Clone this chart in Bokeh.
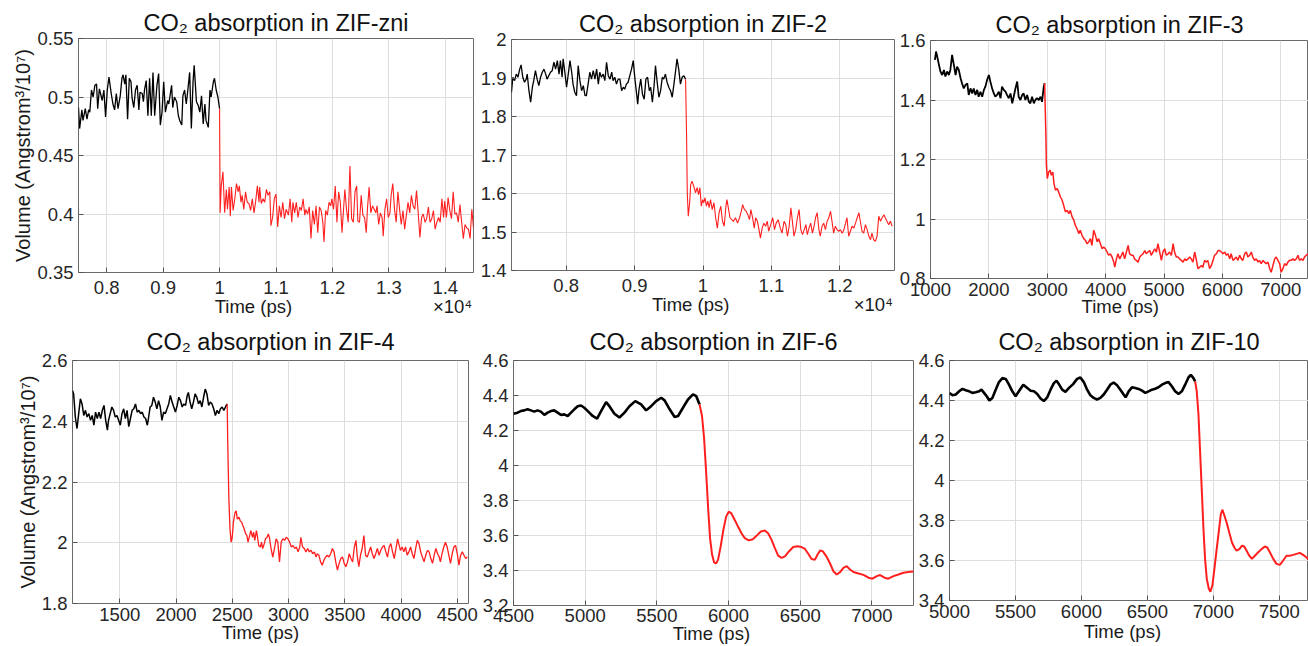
from bokeh.plotting import figure
from bokeh.layouts import column, row
from bokeh.models import Range1d, FixedTicker, CustomJSTickFormatter, LinearAxis
from bokeh.embed import file_html
from bokeh.resources import INLINE

FONT = "Liberation Sans"

TITLES = ["CO\u2082 absorption in ZIF-zni", "CO\u2082 absorption in ZIF-2", "CO\u2082 absorption in ZIF-3",
          "CO\u2082 absorption in ZIF-4", "CO\u2082 absorption in ZIF-6", "CO\u2082 absorption in ZIF-10"]
XLABEL = "Time (ps)"
YLABEL = "Volume (Angstrom\u00b3/10\u2077)"
XSCALE_LABEL = "\u00d710\u2074"

# ---------------- ZIF-zni ----------------
zni_black_t = [7500, 7520, 7560, 7580, 7620, 7650, 7680, 7700, 7730, 7760,
               7790, 7820, 7840, 7870, 7890, 7920, 7950, 7980, 8010, 8040,
               8080, 8110, 8140, 8170, 8200, 8240, 8270, 8290, 8320, 8340,
               8370, 8400, 8430, 8450, 8480, 8510, 8540, 8570, 8590, 8630,
               8650, 8670, 8700, 8730, 8760, 8790, 8820, 8850, 8890, 8920,
               8950, 8980, 9010, 9040, 9080, 9100, 9150, 9170, 9200, 9240,
               9270, 9300, 9330, 9350, 9380, 9410, 9440, 9470, 9500, 9530,
               9550, 9590, 9620, 9650, 9680, 9710, 9740, 9760, 9800, 9830,
               9850, 9890, 9910, 9940, 9970, 10000]
zni_black_v = [0.491, 0.473, 0.489, 0.480, 0.490, 0.481, 0.489, 0.487, 0.506, 0.500,
               0.510, 0.511, 0.490, 0.507, 0.503, 0.497, 0.506, 0.483, 0.506, 0.517,
               0.503, 0.494, 0.489, 0.503, 0.490, 0.501, 0.516, 0.519, 0.511, 0.519,
               0.481, 0.516, 0.513, 0.499, 0.491, 0.506, 0.510, 0.489, 0.504, 0.503,
               0.496, 0.506, 0.514, 0.484, 0.516, 0.484, 0.521, 0.484, 0.510, 0.520,
               0.476, 0.487, 0.513, 0.487, 0.497, 0.494, 0.510, 0.491, 0.500, 0.496,
               0.484, 0.479, 0.476, 0.501, 0.506, 0.494, 0.507, 0.521, 0.473, 0.513,
               0.527, 0.496, 0.493, 0.487, 0.501, 0.477, 0.494, 0.480, 0.474, 0.506,
               0.500, 0.513, 0.516, 0.506, 0.500, 0.490]
zni_red_t = [10000, 10010, 10030, 10060, 10090, 10120, 10140, 10170, 10190, 10210,
             10240, 10270, 10300, 10330, 10350, 10380, 10400, 10430, 10460, 10490,
             10520, 10550, 10580, 10610, 10640, 10670, 10700, 10710, 10740, 10770,
             10800, 10830, 10860, 10890, 10910, 10940, 10970, 11000, 11030, 11060,
             11090, 11120, 11150, 11180, 11220, 11250, 11280, 11300, 11330, 11360,
             11390, 11420, 11450, 11480, 11510, 11530, 11560, 11590, 11620, 11650,
             11680, 11710, 11740, 11770, 11800, 11830, 11850, 11880, 11910, 11940,
             11970, 11990, 12020, 12050, 12080, 12110, 12140, 12170, 12190, 12220,
             12250, 12280, 12310, 12340, 12370, 12400, 12430, 12450, 12480, 12510,
             12540, 12570, 12600, 12620, 12650, 12680, 12710, 12740, 12770, 12790,
             12820, 12850, 12880, 12900, 12930, 12960, 12990, 13020, 13040, 13070,
             13100, 13130, 13160, 13190, 13220, 13250, 13280, 13310, 13340, 13370,
             13400, 13430, 13460, 13490, 13520, 13550, 13580, 13610, 13640, 13670,
             13700, 13730, 13760, 13790, 13820, 13850, 13880, 13910, 13940, 13970,
             13990, 14020, 14050, 14080, 14110, 14140, 14170, 14200, 14230, 14260,
             14290, 14320, 14350, 14380, 14410, 14440, 14470, 14500]
zni_red_v = [0.490, 0.401, 0.424, 0.436, 0.401, 0.421, 0.404, 0.423, 0.398, 0.423,
             0.403, 0.413, 0.426, 0.419, 0.424, 0.410, 0.416, 0.404, 0.419, 0.410,
             0.409, 0.403, 0.413, 0.401, 0.411, 0.424, 0.410, 0.423, 0.409, 0.413,
             0.410, 0.421, 0.416, 0.419, 0.390, 0.397, 0.413, 0.417, 0.389, 0.407,
             0.397, 0.410, 0.396, 0.404, 0.399, 0.413, 0.393, 0.410, 0.401, 0.410,
             0.397, 0.406, 0.403, 0.413, 0.399, 0.404, 0.400, 0.406, 0.379, 0.403,
             0.391, 0.407, 0.384, 0.406, 0.403, 0.393, 0.376, 0.403, 0.399, 0.410,
             0.407, 0.413, 0.404, 0.424, 0.393, 0.419, 0.410, 0.384, 0.399, 0.421,
             0.404, 0.393, 0.441, 0.396, 0.393, 0.419, 0.424, 0.394, 0.393, 0.416,
             0.399, 0.397, 0.384, 0.404, 0.423, 0.401, 0.407, 0.404, 0.401, 0.407,
             0.391, 0.401, 0.397, 0.381, 0.404, 0.413, 0.397, 0.401, 0.416, 0.426,
             0.404, 0.393, 0.419, 0.404, 0.391, 0.403, 0.387, 0.399, 0.410, 0.401,
             0.416, 0.407, 0.404, 0.420, 0.401, 0.380, 0.397, 0.400, 0.393, 0.396,
             0.406, 0.393, 0.396, 0.403, 0.387, 0.393, 0.397, 0.393, 0.413, 0.397,
             0.411, 0.397, 0.414, 0.403, 0.396, 0.419, 0.400, 0.401, 0.393, 0.408,
             0.393, 0.379, 0.391, 0.388, 0.387, 0.379, 0.404, 0.388]

# ---------------- ZIF-2 ----------------
zif2_black_t = [7200, 7220, 7245, 7270, 7295, 7320, 7340, 7365, 7390, 7415,
                7430, 7455, 7480, 7505, 7525, 7550, 7575, 7600, 7625, 7650,
                7675, 7700, 7720, 7745, 7770, 7795, 7820, 7845, 7870, 7895,
                7915, 7940, 7955, 7980, 8005, 8030, 8055, 8080, 8100, 8125,
                8150, 8175, 8200, 8225, 8250, 8275, 8295, 8320, 8345, 8370,
                8395, 8420, 8445, 8470, 8490, 8515, 8540, 8565, 8590, 8615,
                8640, 8665, 8685, 8710, 8735, 8760, 8785, 8810, 8835, 8855,
                8880, 8905, 8930, 8955, 8980, 9005, 9030, 9045, 9065, 9090,
                9115, 9140, 9165, 9190, 9215, 9235, 9260, 9285, 9305, 9330,
                9355, 9380, 9405, 9425, 9450, 9475, 9500, 9525, 9550, 9575,
                9600, 9620, 9645, 9670, 9695, 9720, 9745]
zif2_black_v = [1.863, 1.902, 1.893, 1.910, 1.902, 1.923, 1.934, 1.902, 1.889, 1.897,
                1.910, 1.867, 1.837, 1.876, 1.893, 1.919, 1.897, 1.880, 1.902, 1.915,
                1.923, 1.910, 1.897, 1.906, 1.915, 1.919, 1.941, 1.923, 1.945, 1.910,
                1.945, 1.902, 1.950, 1.915, 1.876, 1.910, 1.945, 1.915, 1.884, 1.863,
                1.854, 1.932, 1.893, 1.867, 1.880, 1.854, 1.854, 1.884, 1.915, 1.897,
                1.919, 1.897, 1.923, 1.884, 1.915, 1.902, 1.910, 1.893, 1.941, 1.906,
                1.897, 1.915, 1.893, 1.902, 1.884, 1.897, 1.897, 1.867, 1.876, 1.871,
                1.884, 1.889, 1.906, 1.923, 1.945, 1.897, 1.858, 1.832, 1.871, 1.897,
                1.858, 1.845, 1.897, 1.902, 1.867, 1.876, 1.837, 1.880, 1.932, 1.889,
                1.850, 1.867, 1.902, 1.897, 1.910, 1.889, 1.876, 1.867, 1.850, 1.884,
                1.919, 1.950, 1.923, 1.884, 1.902, 1.906, 1.897]
zif2_red_t = [9745, 9760, 9770, 9785, 9805, 9820, 9840, 9865, 9890, 9915,
              9935, 9955, 9975, 9995, 10010, 10030, 10050, 10070, 10090, 10110,
              10135, 10160, 10185, 10210, 10235, 10260, 10285, 10310, 10335, 10350,
              10375, 10395, 10420, 10445, 10475, 10505, 10535, 10560, 10580, 10605,
              10630, 10655, 10680, 10700, 10725, 10750, 10770, 10795, 10815, 10840,
              10865, 10890, 10915, 10940, 10960, 10990, 11020, 11045, 11070, 11100,
              11130, 11155, 11185, 11210, 11235, 11260, 11285, 11310, 11330, 11355,
              11380, 11405, 11430, 11455, 11480, 11505, 11525, 11550, 11575, 11600,
              11625, 11645, 11670, 11695, 11715, 11740, 11765, 11790, 11815, 11840,
              11865, 11890, 11910, 11935, 11960, 11985, 12010, 12035, 12060, 12085,
              12105, 12130, 12155, 12180, 12205, 12230, 12255, 12280, 12300, 12325,
              12350, 12375, 12400, 12425, 12450, 12470, 12495, 12520, 12545, 12570,
              12595, 12620, 12645, 12665, 12690, 12715, 12740, 12765]
zif2_red_v = [1.897, 1.750, 1.602, 1.541, 1.576, 1.623, 1.632, 1.619, 1.602, 1.615,
              1.597, 1.615, 1.567, 1.584, 1.576, 1.589, 1.567, 1.580, 1.563, 1.584,
              1.558, 1.576, 1.537, 1.510, 1.550, 1.567, 1.528, 1.515, 1.567, 1.584,
              1.558, 1.537, 1.532, 1.528, 1.537, 1.523, 1.537, 1.554, 1.571, 1.558,
              1.554, 1.545, 1.532, 1.558, 1.537, 1.510, 1.537, 1.528, 1.510, 1.484,
              1.510, 1.523, 1.515, 1.528, 1.502, 1.519, 1.537, 1.506, 1.523, 1.532,
              1.510, 1.497, 1.528, 1.519, 1.489, 1.515, 1.563, 1.523, 1.489, 1.506,
              1.537, 1.558, 1.506, 1.493, 1.506, 1.519, 1.493, 1.510, 1.523, 1.497,
              1.515, 1.537, 1.550, 1.506, 1.489, 1.515, 1.523, 1.506, 1.528, 1.537,
              1.554, 1.523, 1.497, 1.515, 1.506, 1.502, 1.506, 1.497, 1.506, 1.523,
              1.537, 1.489, 1.502, 1.515, 1.510, 1.523, 1.537, 1.550, 1.528, 1.502,
              1.497, 1.519, 1.506, 1.489, 1.480, 1.497, 1.480, 1.476, 1.489, 1.541,
              1.528, 1.537, 1.545, 1.537, 1.528, 1.519, 1.528, 1.515]

# ---------------- ZIF-3 ----------------
zif3_black_t = [1075, 1095, 1115, 1145, 1170, 1200, 1230, 1255, 1285, 1315,
                1340, 1370, 1400, 1430, 1455, 1485, 1515, 1540, 1570, 1600,
                1630, 1655, 1685, 1715, 1740, 1770, 1800, 1825, 1855, 1885,
                1915, 1940, 1970, 2000, 2025, 2055, 2085, 2110, 2140, 2170,
                2200, 2225, 2255, 2285, 2310, 2340, 2370, 2400, 2425, 2455,
                2485, 2510, 2540, 2570, 2595, 2625, 2655, 2685, 2710, 2740,
                2770, 2795, 2825, 2855, 2885, 2910, 2940, 2955]
zif3_black_v = [1.535, 1.563, 1.546, 1.518, 1.496, 1.484, 1.501, 1.479, 1.496, 1.484,
                1.501, 1.552, 1.518, 1.484, 1.512, 1.501, 1.473, 1.456, 1.439, 1.451,
                1.456, 1.417, 1.439, 1.422, 1.439, 1.417, 1.434, 1.411, 1.428, 1.411,
                1.434, 1.445, 1.468, 1.484, 1.462, 1.439, 1.422, 1.411, 1.417, 1.428,
                1.406, 1.445, 1.434, 1.428, 1.417, 1.406, 1.422, 1.389, 1.411, 1.439,
                1.462, 1.411, 1.400, 1.417, 1.422, 1.400, 1.417, 1.394, 1.389, 1.411,
                1.389, 1.400, 1.406, 1.400, 1.411, 1.394, 1.445, 1.456]
zif3_red_t = [2955, 2975, 2985, 3000, 3025, 3050, 3070, 3095, 3115, 3140,
              3170, 3195, 3225, 3255, 3280, 3310, 3340, 3370, 3395, 3425,
              3455, 3480, 3510, 3540, 3565, 3595, 3625, 3655, 3680, 3710,
              3740, 3765, 3795, 3825, 3855, 3880, 3910, 3940, 3965, 3995,
              4025, 4050, 4080, 4110, 4140, 4155, 4185, 4210, 4240, 4270,
              4295, 4325, 4355, 4385, 4410, 4440, 4470, 4495, 4525, 4555,
              4585, 4610, 4640, 4670, 4695, 4725, 4755, 4780, 4810, 4840,
              4870, 4895, 4925, 4955, 4980, 5010, 5040, 5070, 5095, 5125,
              5155, 5180, 5210, 5240, 5265, 5295, 5325, 5355, 5380, 5410,
              5440, 5465, 5495, 5525, 5555, 5580, 5610, 5640, 5665, 5695,
              5725, 5750, 5780, 5810, 5840, 5865, 5895, 5925, 5950, 5980,
              6010, 6040, 6065, 6095, 6125, 6150, 6180, 6210, 6235, 6265,
              6295, 6325, 6350, 6380, 6410, 6435, 6465, 6495, 6520, 6550,
              6580, 6610, 6635, 6665, 6695, 6720, 6750, 6780, 6810, 6835,
              6865, 6895, 6920, 6950, 6980, 7005, 7035, 7065, 7095, 7120,
              7150, 7180, 7205, 7235, 7265, 7295, 7320, 7350, 7380, 7405,
              7435, 7465]
zif3_red_v = [1.456, 1.293, 1.181, 1.136, 1.158, 1.164, 1.147, 1.158, 1.119, 1.097,
              1.102, 1.091, 1.074, 1.063, 1.046, 1.024, 1.029, 1.018, 1.029, 1.007,
              0.996, 0.979, 0.967, 0.951, 0.962, 0.945, 0.934, 0.928, 0.917, 0.923,
              0.934, 0.911, 0.962, 0.945, 0.923, 0.934, 0.917, 0.900, 0.906, 0.900,
              0.889, 0.878, 0.883, 0.872, 0.855, 0.838, 0.866, 0.883, 0.866, 0.878,
              0.889, 0.866, 0.889, 0.911, 0.883, 0.878, 0.878, 0.866, 0.861, 0.855,
              0.872, 0.878, 0.883, 0.894, 0.883, 0.889, 0.894, 0.878, 0.889, 0.900,
              0.889, 0.917, 0.889, 0.861, 0.889, 0.900, 0.878, 0.883, 0.889, 0.878,
              0.917, 0.889, 0.872, 0.872, 0.866, 0.861, 0.855, 0.866, 0.861, 0.866,
              0.872, 0.866, 0.855, 0.889, 0.861, 0.833, 0.838, 0.844, 0.838, 0.861,
              0.855, 0.861, 0.833, 0.844, 0.861, 0.878, 0.883, 0.894, 0.894, 0.889,
              0.883, 0.889, 0.878, 0.883, 0.866, 0.883, 0.861, 0.866, 0.872, 0.861,
              0.878, 0.866, 0.861, 0.883, 0.889, 0.872, 0.878, 0.889, 0.872, 0.861,
              0.866, 0.855, 0.861, 0.850, 0.861, 0.855, 0.850, 0.855, 0.833, 0.821,
              0.844, 0.866, 0.872, 0.861, 0.850, 0.821, 0.833, 0.850, 0.844, 0.855,
              0.861, 0.861, 0.866, 0.861, 0.866, 0.878, 0.861, 0.866, 0.861, 0.872,
              0.878, 0.883]

# ---------------- ZIF-4 ----------------
zif4_black_t = [1080, 1090, 1105, 1120, 1135, 1150, 1165, 1180, 1195, 1210,
                1225, 1240, 1255, 1270, 1285, 1300, 1315, 1330, 1345, 1360,
                1375, 1390, 1400, 1415, 1430, 1445, 1460, 1475, 1490, 1505,
                1520, 1535, 1550, 1565, 1580, 1595, 1610, 1625, 1640, 1655,
                1670, 1685, 1700, 1715, 1730, 1745, 1755, 1770, 1785, 1800,
                1815, 1830, 1845, 1860, 1875, 1890, 1905, 1920, 1935, 1950,
                1965, 1980, 1995, 2010, 2025, 2040, 2055, 2070, 2085, 2100,
                2110, 2125, 2140, 2155, 2170, 2185, 2200, 2215, 2230, 2245,
                2260, 2275, 2290, 2305, 2320, 2335, 2350, 2365, 2380, 2395,
                2410, 2425, 2440, 2455]
zif4_black_v = [2.501, 2.490, 2.414, 2.376, 2.425, 2.474, 2.457, 2.419, 2.436, 2.414,
                2.425, 2.403, 2.419, 2.387, 2.430, 2.409, 2.430, 2.409, 2.436, 2.452,
                2.403, 2.371, 2.403, 2.425, 2.447, 2.436, 2.414, 2.419, 2.403, 2.387,
                2.425, 2.441, 2.409, 2.436, 2.382, 2.409, 2.436, 2.441, 2.457, 2.430,
                2.436, 2.425, 2.430, 2.414, 2.409, 2.387, 2.409, 2.447, 2.452, 2.479,
                2.463, 2.441, 2.468, 2.447, 2.403, 2.430, 2.425, 2.441, 2.457, 2.485,
                2.463, 2.447, 2.430, 2.452, 2.479, 2.468, 2.447, 2.457, 2.452, 2.485,
                2.495, 2.463, 2.441, 2.463, 2.490, 2.479, 2.457, 2.468, 2.447, 2.479,
                2.506, 2.490, 2.452, 2.463, 2.457, 2.441, 2.419, 2.436, 2.425, 2.441,
                2.447, 2.436, 2.447, 2.457]
zif4_red_t = [2455, 2460, 2470, 2480, 2490, 2500, 2510, 2525, 2535, 2545,
              2560, 2570, 2585, 2595, 2605, 2620, 2630, 2640, 2655, 2665,
              2680, 2690, 2700, 2715, 2725, 2735, 2750, 2760, 2770, 2785,
              2795, 2810, 2820, 2830, 2845, 2860, 2875, 2890, 2905, 2920,
              2935, 2950, 2965, 2980, 2995, 3010, 3025, 3040, 3055, 3070,
              3085, 3100, 3110, 3125, 3140, 3155, 3170, 3185, 3200, 3215,
              3230, 3245, 3255, 3270, 3285, 3300, 3315, 3330, 3345, 3360,
              3375, 3390, 3405, 3420, 3435, 3450, 3465, 3480, 3495, 3510,
              3525, 3540, 3555, 3570, 3585, 3600, 3610, 3625, 3640, 3655,
              3670, 3685, 3700, 3715, 3730, 3745, 3760, 3775, 3790, 3805,
              3820, 3835, 3850, 3865, 3880, 3895, 3910, 3925, 3940, 3955,
              3970, 3980, 3995, 4010, 4025, 4040, 4055, 4070, 4085, 4100,
              4115, 4130, 4145, 4160, 4175, 4190, 4205, 4220, 4235, 4250,
              4265, 4280, 4295, 4310, 4325, 4340, 4350, 4365, 4380, 4395,
              4410, 4425, 4440, 4455, 4470, 4485, 4500, 4515, 4530, 4545,
              4560, 4575, 4590]
zif4_red_v = [2.457, 2.327, 2.143, 2.046, 2.002, 2.018, 2.067, 2.100, 2.105, 2.078,
              2.084, 2.073, 2.067, 2.056, 2.046, 2.029, 2.024, 2.002, 2.024, 2.040,
              2.018, 2.035, 2.008, 2.040, 2.018, 1.991, 1.986, 2.002, 1.981, 1.997,
              2.013, 2.018, 2.029, 2.018, 1.981, 1.953, 1.981, 2.013, 2.002, 1.937,
              2.002, 2.013, 2.008, 2.018, 2.013, 2.002, 1.986, 1.991, 1.981, 1.986,
              1.970, 1.986, 2.018, 1.986, 1.981, 1.970, 1.981, 1.970, 1.975, 1.964,
              1.970, 1.953, 1.964, 1.959, 1.937, 1.926, 1.943, 1.953, 1.959, 1.953,
              1.964, 1.981, 1.970, 1.937, 1.910, 1.932, 1.948, 1.953, 1.932, 1.921,
              1.937, 1.964, 1.948, 1.937, 1.986, 2.008, 1.959, 1.921, 1.959, 1.981,
              2.024, 1.959, 1.953, 1.970, 1.986, 1.964, 1.948, 1.964, 1.981, 1.959,
              1.975, 1.986, 1.991, 1.970, 1.953, 1.986, 1.997, 1.970, 1.948, 1.981,
              2.013, 1.997, 1.975, 1.986, 1.970, 1.986, 1.959, 1.970, 1.986, 1.964,
              1.948, 1.981, 2.008, 1.997, 1.970, 1.953, 1.937, 1.959, 1.975, 1.970,
              1.948, 1.932, 1.959, 1.981, 1.964, 1.953, 1.937, 1.964, 1.986, 2.002,
              1.986, 1.959, 1.932, 1.964, 1.986, 1.991, 1.964, 1.926, 1.959, 1.970,
              1.959, 1.948, 1.953]

# ---------------- ZIF-6 ----------------
zif6_black_t = [4500, 4528, 4551, 4575, 4598, 4621, 4645, 4668, 4691, 4715,
                4738, 4761, 4784, 4808, 4831, 4854, 4878, 4901, 4924, 4948,
                4971, 4994, 5018, 5052, 5083, 5111, 5146, 5169, 5204, 5239,
                5274, 5309, 5349, 5390, 5425, 5460, 5495, 5530, 5554, 5589,
                5624, 5648, 5682, 5717, 5752, 5775, 5798]
zif6_black_v = [4.296, 4.302, 4.311, 4.315, 4.321, 4.315, 4.308, 4.315, 4.308, 4.289,
                4.302, 4.311, 4.315, 4.302, 4.289, 4.292, 4.283, 4.302, 4.321, 4.339,
                4.343, 4.330, 4.311, 4.283, 4.268, 4.311, 4.362, 4.339, 4.296, 4.274,
                4.302, 4.339, 4.368, 4.349, 4.315, 4.339, 4.368, 4.387, 4.372, 4.321,
                4.277, 4.283, 4.330, 4.377, 4.406, 4.396, 4.349]
zif6_red_t = [5798, 5815, 5829, 5843, 5857, 5871, 5885, 5899, 5913, 5927,
              5945, 5964, 5983, 6001, 6020, 6043, 6066, 6090, 6113, 6141,
              6169, 6195, 6225, 6253, 6276, 6300, 6323, 6346, 6370, 6393,
              6421, 6451, 6481, 6509, 6533, 6556, 6579, 6603, 6621, 6640,
              6658, 6682, 6708, 6731, 6754, 6778, 6801, 6824, 6847, 6871,
              6906, 6941, 6976, 7004, 7034, 7057, 7088, 7115, 7150, 7185,
              7220, 7255, 7290]
zif6_red_v = [4.349, 4.283, 4.160, 3.972, 3.764, 3.585, 3.491, 3.447, 3.440, 3.462,
              3.538, 3.632, 3.708, 3.736, 3.726, 3.689, 3.651, 3.613, 3.585, 3.572,
              3.579, 3.598, 3.623, 3.628, 3.613, 3.575, 3.528, 3.485, 3.472, 3.481,
              3.509, 3.534, 3.538, 3.534, 3.523, 3.496, 3.466, 3.462, 3.491, 3.515,
              3.509, 3.481, 3.440, 3.396, 3.377, 3.391, 3.415, 3.425, 3.406, 3.391,
              3.383, 3.375, 3.359, 3.353, 3.368, 3.374, 3.359, 3.353, 3.368, 3.377,
              3.387, 3.391, 3.394]

# ---------------- ZIF-10 ----------------
zif10_black_t = [5000, 5023, 5048, 5073, 5098, 5123, 5149, 5174, 5199, 5224,
                 5242, 5262, 5282, 5302, 5325, 5350, 5375, 5401, 5426, 5451,
                 5476, 5501, 5526, 5559, 5590, 5615, 5640, 5665, 5690, 5715,
                 5741, 5766, 5791, 5811, 5829, 5854, 5879, 5904, 5937, 5967,
                 5992, 6018, 6043, 6068, 6093, 6118, 6144, 6169, 6194, 6219,
                 6244, 6270, 6295, 6320, 6335, 6358, 6383, 6408, 6433, 6459,
                 6484, 6509, 6534, 6559, 6584, 6610, 6635, 6660, 6685, 6710,
                 6736, 6761, 6786, 6811, 6829, 6849, 6862]
zif10_black_v = [4.438, 4.426, 4.430, 4.446, 4.458, 4.451, 4.446, 4.438, 4.441, 4.446,
                 4.454, 4.438, 4.421, 4.400, 4.413, 4.454, 4.492, 4.512, 4.508, 4.479,
                 4.446, 4.421, 4.446, 4.479, 4.462, 4.449, 4.446, 4.433, 4.410, 4.397,
                 4.416, 4.454, 4.487, 4.499, 4.482, 4.454, 4.443, 4.462, 4.482, 4.508,
                 4.515, 4.492, 4.454, 4.426, 4.413, 4.405, 4.413, 4.430, 4.454, 4.479,
                 4.490, 4.476, 4.454, 4.430, 4.416, 4.446, 4.466, 4.462, 4.458, 4.449,
                 4.438, 4.446, 4.454, 4.459, 4.466, 4.479, 4.487, 4.492, 4.471, 4.446,
                 4.433, 4.446, 4.479, 4.515, 4.528, 4.512, 4.495]
zif10_red_t = [6862, 6874, 6887, 6899, 6912, 6925, 6937, 6950, 6965, 6977,
               6993, 7008, 7025, 7043, 7056, 7068, 7081, 7101, 7121, 7141,
               7159, 7176, 7197, 7217, 7234, 7252, 7272, 7292, 7315, 7340,
               7365, 7390, 7408, 7428, 7454, 7478, 7504, 7529, 7554, 7579,
               7605, 7630, 7655, 7680, 7705, 7721]
zif10_red_v = [4.495, 4.446, 4.331, 4.150, 3.953, 3.756, 3.608, 3.509, 3.460, 3.444,
               3.477, 3.559, 3.657, 3.756, 3.830, 3.854, 3.830, 3.789, 3.739, 3.690,
               3.665, 3.649, 3.657, 3.674, 3.670, 3.649, 3.624, 3.608, 3.624, 3.641,
               3.657, 3.670, 3.665, 3.641, 3.608, 3.583, 3.578, 3.600, 3.624, 3.624,
               3.628, 3.633, 3.638, 3.628, 3.616, 3.605]

# ---------------- axis ticks / limits ----------------
zni_xlim = (7500, 14500); zni_ylim = (0.35, 0.55)
zni_xticks = [8000, 9000, 10000, 11000, 12000, 13000, 14000]
zni_yticks = [0.35, 0.4, 0.45, 0.5, 0.55]
zif2_xlim = (7200, 12800); zif2_ylim = (1.4, 2.0)
zif2_xticks = [8000, 9000, 10000, 11000, 12000]
zif2_yticks = [1.4, 1.5, 1.6, 1.7, 1.8, 1.9, 2.0]
zif3_xlim = (1000, 7474); zif3_ylim = (0.8, 1.6)
zif3_xticks = [1000, 2000, 3000, 4000, 5000, 6000, 7000]
zif3_yticks = [0.8, 1.0, 1.2, 1.4, 1.6]
zif4_xlim = (1080, 4600); zif4_ylim = (1.8, 2.6)
zif4_xticks = [1500, 2000, 2500, 3000, 3500, 4000, 4500]
zif4_yticks = [1.8, 2.0, 2.2, 2.4, 2.6]
zif6_xlim = (4500, 7290); zif6_ylim = (3.2, 4.6)
zif6_xticks = [4500, 5000, 5500, 6000, 6500, 7000]
zif6_yticks = [3.2, 3.4, 3.6, 3.8, 4.0, 4.2, 4.4, 4.6]
zif10_xlim = (5000, 7721); zif10_ylim = (3.4, 4.6)
zif10_xticks = [5000, 5500, 6000, 6500, 7000, 7500]
zif10_yticks = [3.4, 3.6, 3.8, 4.0, 4.2, 4.4, 4.6]

Y_FMT = "return String(Math.round(tick*1000)/1000);"
X_FMT_E4 = "return String(Math.round(tick/10)/1000);"
X_FMT = "return String(Math.round(tick));"


def style_axis(ax, size):
    ax.axis_line_color = None
    ax.minor_tick_line_color = None
    ax.major_label_text_font = FONT
    ax.major_label_text_font_size = size
    ax.major_label_text_color = "#262626"


def panel(title, bt, bv, rt, rv, xlim, ylim, xticks, yticks, w, h,
          bl, br, btop, bbot, xlab_at, e4_at=None, ylabel=False,
          lwb=1.3, lwr=1.1, t_off=0, t_stand=6, x_stand=5, x2_stand=-2):
    p = figure(width=w, height=h, x_range=Range1d(*xlim), y_range=Range1d(*ylim),
               output_backend="svg", toolbar_location=None, tools="",
               min_border_left=bl, min_border_right=br,
               min_border_top=btop, min_border_bottom=bbot)
    p.background_fill_color = "white"
    p.border_fill_color = "white"
    p.outline_line_color = "#6a6a6a"
    p.outline_line_width = 1

    p.title.text = title
    p.title.align = "center"
    p.title.text_font = FONT
    p.title.text_font_size = "23.5px"
    p.title.text_font_style = "normal"
    p.title.text_color = "#111111"
    p.title.offset = t_off
    p.title.standoff = t_stand

    p.xaxis.ticker = FixedTicker(ticks=xticks)
    p.yaxis.ticker = FixedTicker(ticks=yticks)
    p.xaxis.formatter = CustomJSTickFormatter(code=X_FMT_E4 if e4_at else X_FMT)
    p.yaxis.formatter = CustomJSTickFormatter(code=Y_FMT)
    for ax in (p.xaxis[0], p.yaxis[0]):
        style_axis(ax, "18.5px")
        ax.major_tick_in = 5
        ax.major_tick_out = 0
        ax.major_tick_line_color = "#555555"
    p.xaxis.major_label_standoff = x_stand
    p.yaxis.major_label_standoff = 5
    if ylabel:
        p.yaxis.axis_label = YLABEL
        p.yaxis.axis_label_standoff = 0
        p.yaxis.axis_label_text_font = FONT
        p.yaxis.axis_label_text_font_size = "20px"
        p.yaxis.axis_label_text_font_style = "normal"
        p.yaxis.axis_label_text_color = "#1a1a1a"

    # second row under the tick labels: "Time (ps)" and the x10^4 multiplier
    ticks2 = [xlab_at] + ([e4_at] if e4_at else [])
    ax2 = LinearAxis(ticker=FixedTicker(ticks=ticks2),
                     formatter=CustomJSTickFormatter(
                         args=dict(t=xlab_at, a=XLABEL, b=XSCALE_LABEL),
                         code="return Math.abs(tick - t) < 1 ? a : b;"))
    style_axis(ax2, "18.5px")
    ax2.major_label_text_color = "#1a1a1a"
    ax2.major_tick_line_color = None
    ax2.major_tick_in = 0
    ax2.major_tick_out = 0
    ax2.major_label_standoff = x2_stand
    p.add_layout(ax2, "below")

    p.grid.grid_line_color = "#dedede"
    p.grid.grid_line_width = 1

    n = min(len(bt), len(bv))
    p.line(bt[:n], bv[:n], line_color="black", line_width=lwb)
    n = min(len(rt), len(rv))
    p.line(rt[:n], rv[:n], line_color="#ff1f1f", line_width=lwr)
    return p


p1 = panel(TITLES[0], zni_black_t, zni_black_v, zni_red_t, zni_red_v, zni_xlim, zni_ylim,
           zni_xticks, zni_yticks, 476, 321, 78, 3, 38, 49, 10600, e4_at=14130,
           ylabel=True, t_off=4, x_stand=8, x2_stand=-1)
p2 = panel(TITLES[1], zif2_black_t, zif2_black_v, zif2_red_t, zif2_red_v, zif2_xlim, zif2_ylim,
           zif2_xticks, zif2_yticks, 420, 321, 35, 2, 39, 51, 9820, e4_at=12490, t_off=2,
           x_stand=8, x2_stand=-1)
p3 = panel(TITLES[2], zif3_black_t, zif3_black_v, zif3_red_t, zif3_red_v, zif3_xlim, zif3_ylim,
           zif3_xticks, zif3_yticks, 412, 321, 34, 0, 40, 43, 4250,
           lwb=1.8, lwr=1.5, t_off=8, x_stand=4, x2_stand=-3)
p4 = panel(TITLES[3], zif4_black_t, zif4_black_v, zif4_red_t, zif4_red_v, zif4_xlim, zif4_ylim,
           zif4_xticks, zif4_yticks, 478, 325, 72, 10, 37, 43, 2750, ylabel=True,
           lwb=1.5, lwr=1.3, t_off=2, t_stand=11, x_stand=4, x2_stand=-2)
p5 = panel(TITLES[4], zif6_black_t, zif6_black_v, zif6_red_t, zif6_red_v, zif6_xlim, zif6_ylim,
           zif6_xticks, zif6_yticks, 437, 325, 35, 2, 38, 41, 5880,
           lwb=2.6, lwr=2.0, t_off=5, t_stand=11, x_stand=3, x2_stand=-2)
p6 = panel(TITLES[5], zif10_black_t, zif10_black_v, zif10_red_t, zif10_red_v, zif10_xlim, zif10_ylim,
           zif10_xticks, zif10_yticks, 393, 325, 33, 0, 37, 46, 6310,
           lwb=2.6, lwr=2.0, t_off=5, t_stand=11, x_stand=4, x2_stand=0)

# each figure sits in its own column so that frames are placed independently
layout = column(row(column(p1), column(p2), column(p3), spacing=0),
                row(column(p4), column(p5), column(p6), spacing=0), spacing=0)
open("out.html", "w").write(file_html(layout, INLINE))
